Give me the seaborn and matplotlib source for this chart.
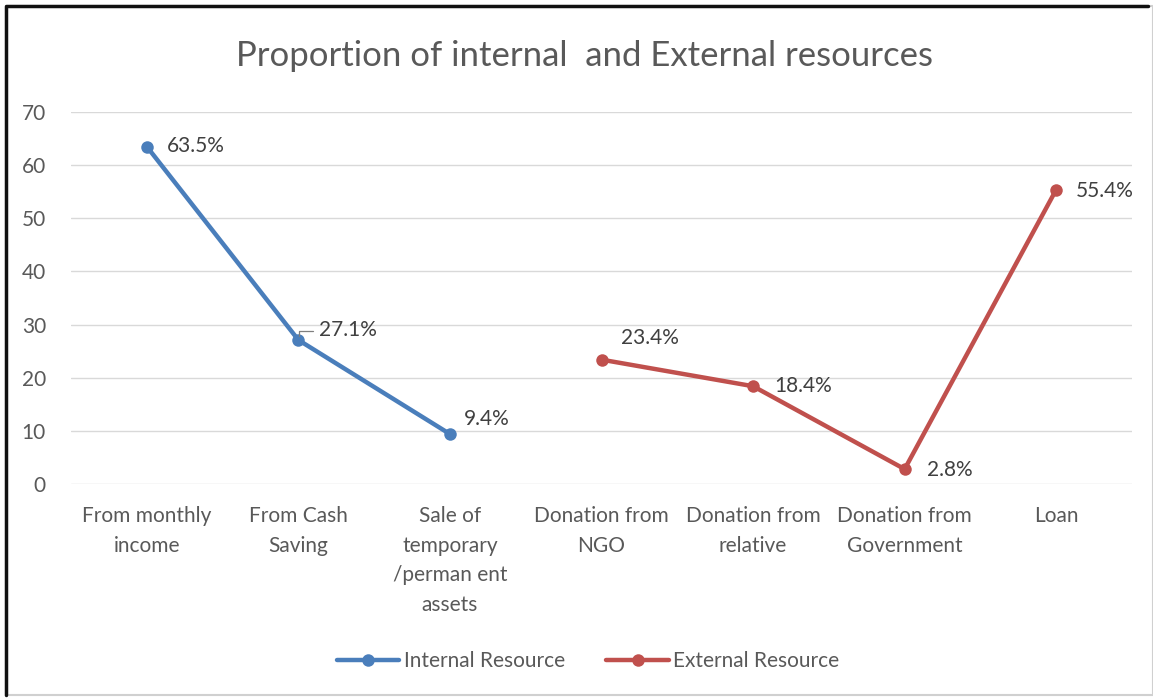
import numpy as np
import pandas as pd
import matplotlib
matplotlib.use("Agg")
import matplotlib.pyplot as plt
import seaborn as sns
from matplotlib.patches import Rectangle

categories = ["From monthly\nincome", "From Cash\nSaving", "Sale of\ntemporary\n/perman ent\nassets",
              "Donation from\nNGO", "Donation from\nrelative", "Donation from\nGovernment", "Loan"]
internal = [63.5, 27.1, 9.4, np.nan, np.nan, np.nan, np.nan]
external = [np.nan, np.nan, np.nan, 23.4, 18.4, 2.8, 55.4]
series_names = ["Internal Resource", "External Resource"]
colors = ["#4a7ebb", "#c0504d"]
yticks = [0, 10, 20, 30, 40, 50, 60, 70]

sns.set_style("white")
plt.rcParams['font.family'] = ['Lato', 'DejaVu Sans']

FS = 15

rows = []
for i in range(len(categories)):
    if not np.isnan(internal[i]):
        rows.append({"x": i, "value": internal[i], "series": series_names[0]})
    if not np.isnan(external[i]):
        rows.append({"x": i, "value": external[i], "series": series_names[1]})
df = pd.DataFrame(rows)

fig = plt.figure(figsize=(11.53, 6.98), dpi=100)
ax = fig.add_axes([71/1153, 1-484/698, (1132-71)/1153, (484-112)/698])

sns.lineplot(data=df, x="x", y="value", hue="series", palette=colors, ax=ax,
             marker="o", markersize=9, markeredgewidth=0, linewidth=3.2, legend=False)

ax.set_xlim(-0.5, len(categories) - 0.5)
ax.set_ylim(0, 70)
ax.set_yticks(yticks)
ax.set_yticklabels([str(t) for t in yticks])
ax.set_xticks(range(len(categories)))
ax.set_xticklabels(categories, linespacing=1.6)
ax.set_xlabel("")
ax.set_ylabel("")
ax.grid(axis="y", color="#d9d9d9", linewidth=1)
ax.set_axisbelow(True)
for s in ax.spines.values():
    s.set_visible(False)
ax.tick_params(axis="y", length=0, pad=18, labelsize=FS, labelcolor="#595959")
ax.tick_params(axis="x", length=0, pad=16, labelsize=FS, labelcolor="#595959")

# data labels
offsets = {0: (20, 1), 1: (21, 10), 2: (14, 15), 3: (20, 22), 4: (21, 0), 5: (22, -1), 6: (20, -1)}
for i in range(len(categories)):
    v = internal[i] if not np.isnan(internal[i]) else external[i]
    dx, dy = offsets[i]
    ax.annotate(f"{v:.1f}%", xy=(i, v), xytext=(dx, dy), textcoords="offset pixels",
                ha="left", va="center", fontsize=FS, color="#404040")
# leader line for 27.1%
fig.canvas.draw()
x0, y0 = ax.transData.transform((1, internal[1]))
inv = fig.transFigure.inverted()
p1 = inv.transform((x0 + 1, y0 + 4))
p2 = inv.transform((x0 + 1, y0 + 9))
p3 = inv.transform((x0 + 15, y0 + 9))
fig.lines.append(plt.Line2D([p1[0], p2[0], p3[0]], [p1[1], p2[1], p3[1]],
                            color="#7f7f7f", linewidth=0.9, transform=fig.transFigure))

fig.text(584/1153, 1-56/698, "Proportion of internal  and External resources",
         ha="center", va="center", fontsize=25, color="#595959")

handles = [plt.Line2D([], [], color=c, linewidth=3.2, marker="o", markersize=9, markeredgewidth=0)
           for c in colors]
fig.legend(handles, series_names, loc="center", bbox_to_anchor=(588/1153, 1-661/698), ncol=2,
           frameon=False, fontsize=FS, handlelength=3.0, columnspacing=2.0, handletextpad=0.2,
           labelcolor="#595959")

# outer frame
fig.patches.append(Rectangle((6/1153, 3/698), (1147/1153), (689/698), transform=fig.transFigure,
                             fill=False, edgecolor="#d0d0d0", linewidth=1.5))
fig.lines.append(plt.Line2D([6/1153, 6/1153, 1148/1153], [3/698, 1-6/698, 1-6/698],
                            color="#111111", linewidth=2.5, transform=fig.transFigure))

fig.savefig("out.png", dpi=100)
